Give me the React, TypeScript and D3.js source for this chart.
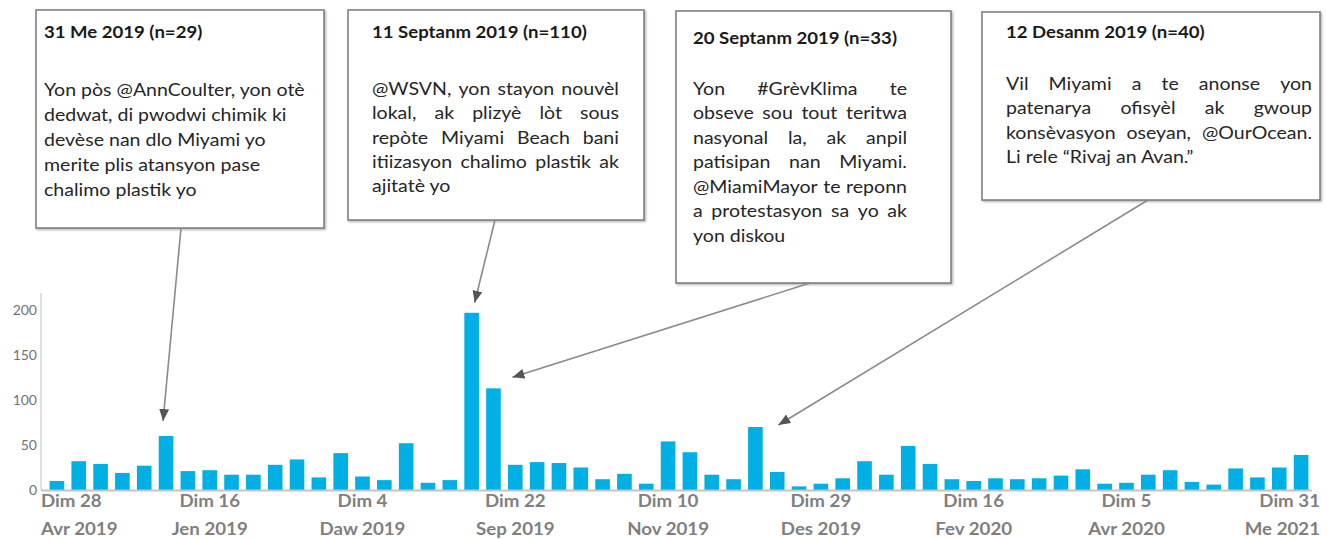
import React, { useEffect, useRef } from 'react'
import * as d3 from 'd3'

// weekly counts, one bar per week starting on this Sunday
const firstWeek = '2019-04-28'
const weeklyCounts = [
    10, 32, 29, 19, 27, 60, 21, 22, 17, 17, 28, 34, 14, 41, 15, 11, 52, 8, 11, 197,
    113, 28, 31, 30, 25, 12, 18, 7, 54, 42, 17, 12, 70, 20, 4, 7, 13, 32, 17, 49,
    29, 12, 10, 13, 12, 13, 16, 23, 7, 8, 17, 22, 9, 6, 24, 14, 25, 39
]

const tickWeeks = ['2019-04-28', '2019-06-16', '2019-08-04', '2019-09-22', '2019-11-10', '2019-12-29', '2020-02-16', '2020-04-05', '2020-05-31']
const tickDays = ['Dim 28', 'Dim 16', 'Dim 4', 'Dim 22', 'Dim 10', 'Dim 29', 'Dim 16', 'Dim 5', 'Dim 31']
const tickMonths = ['Avr 2019', 'Jen 2019', 'Daw 2019', 'Sep 2019', 'Nov 2019', 'Des 2019', 'Fev 2020', 'Avr 2020', 'Me 2021']
const yTicks = [0, 50, 100, 150, 200]

const noteTitles = ['31 Me 2019 (n=29)', '11 Septanm 2019 (n=110)', '20 Septanm 2019 (n=33)', '12 Desanm 2019 (n=40)']
const noteLines = [
    ['Yon pòs @AnnCoulter, yon otè', 'dedwat, di pwodwi chimik ki', 'devèse nan dlo Miyami yo', 'merite plis atansyon pase', 'chalimo plastik yo'],
    ['@WSVN, yon stayon nouvèl', 'lokal, ak plizyè lòt sous', 'repòte Miyami Beach bani', 'itiizasyon chalimo plastik ak', 'ajitatè yo'],
    ['Yon #GrèvKlima te', 'obseve sou tout teritwa', 'nasyonal la, ak anpil', 'patisipan nan Miyami.', '@MiamiMayor te reponn', 'a protestasyon sa yo ak', 'yon diskou'],
    ['Vil Miyami a te anonse yon', 'patenarya ofisyèl ak gwoup', 'konsèvasyon oseyan, @OurOcean.', 'Li rele “Rivaj an Avan.”']
]
// the week each arrow points at
const noteWeeks = ['2019-06-02', '2019-09-08', '2019-09-15', '2019-12-08']

// box layout (pixels), kept apart from the data
const boxes = [
    { x: 36, y: 10, w: 288, h: 218, tx: 44, tw: 261, titleY: 38, bodyY: 96, lh: 25.1, justify: false, fx: 181, tipDx: -3, tipDy: -15 },
    { x: 348, y: 10, w: 296, h: 210, tx: 372, tw: 247, titleY: 38, bodyY: 95, lh: 24.3, justify: true, fx: 495, tipDx: 3, tipDy: -10 },
    { x: 676, y: 11, w: 275, h: 272, tx: 693, tw: 214, titleY: 44, bodyY: 95, lh: 24.5, justify: true, fx: 810, tipDx: 19, tipDy: -11 },
    { x: 982, y: 12, w: 338, h: 188, tx: 1006, tw: 306, titleY: 38, bodyY: 90, lh: 24.3, justify: true, fx: 1148, tipDx: 23, tipDy: -2 }
]

const FONT = 'Lato, "Open Sans", sans-serif'
const BODY_SIZE = 16.5
// the source picture is a little wider than tall, so glyphs get stretched sideways
const TICK_SX = 1.1
const TITLE_SX = 0.95

function drawChart(node) {
    const svg = d3.select(node)
    svg.selectAll('*').remove()

    const parse = d3.utcParse('%Y-%m-%d')
    const fmt = d3.utcFormat('%Y-%m-%d')
    const start = parse(firstWeek)
    const weeks = d3.utcSunday.range(start, d3.utcSunday.offset(start, weeklyCounts.length)).map(fmt)

    const x = d3.scaleBand()
        .domain(weeks)
        .range([46, 1312])
        .paddingInner(0.33)
        .paddingOuter(0.165)
    const y = d3.scaleLinear().domain([0, 219]).range([490, 293])

    const defs = svg.append('defs')
    defs.append('marker')
        .attr('id', 'arrow')
        .attr('markerUnits', 'userSpaceOnUse')
        .attr('markerWidth', 12)
        .attr('markerHeight', 10)
        .attr('refX', 12)
        .attr('refY', 5)
        .attr('orient', 'auto')
        .append('path')
        .attr('d', 'M0,0 L12,5 L0,10 Z')
        .attr('fill', '#555')
    const shadow = defs.append('filter').attr('id', 'shadow').attr('x', '-5%').attr('y', '-5%').attr('width', '110%').attr('height', '110%')
    shadow.append('feDropShadow')
        .attr('dx', 1.2).attr('dy', 1.2).attr('stdDeviation', 0.8)
        .attr('flood-color', '#999').attr('flood-opacity', 0.8)

    // y axis
    svg.append('line')
        .attr('x1', 41).attr('x2', 41)
        .attr('y1', y(0)).attr('y2', y(219))
        .attr('stroke', '#d6d6d6').attr('stroke-width', 1.5)
    svg.append('g')
        .selectAll('text')
        .data(yTicks)
        .join('text')
        .attr('x', 37)
        .attr('y', d => y(d))
        .attr('dy', '0.36em')
        .attr('text-anchor', 'end')
        .attr('font-family', FONT)
        .attr('font-size', 14)
        .attr('fill', '#737373')
        .text(d => d)

    // bars
    svg.append('g')
        .selectAll('rect')
        .data(weeklyCounts)
        .join('rect')
        .attr('x', (d, i) => x(weeks[i]))
        .attr('y', d => y(d))
        .attr('width', x.bandwidth())
        .attr('height', d => y(0) - y(d))
        .attr('fill', '#00b0e4')

    // baseline
    svg.append('line')
        .attr('x1', 41).attr('x2', x.range()[1])
        .attr('y1', y(0) + 0.5).attr('y2', y(0) + 0.5)
        .attr('stroke', '#c4c4c4').attr('stroke-width', 2)

    // x tick labels, first and last pinned to the ends
    const last = tickWeeks.length - 1
    const tickX = i => i === 0 ? x.range()[0] - 5 : i === last ? x.range()[1] + 8 : x(tickWeeks[i]) + x.bandwidth() / 2
    const tickAnchor = i => i === 0 ? 'start' : i === last ? 'end' : 'middle'
    const ticks = svg.append('g')
        .attr('font-family', FONT)
        .attr('font-size', 17)
        .attr('font-weight', 'bold')
        .attr('fill', '#7f7f7f')
    ticks.selectAll('text.day')
        .data(tickDays)
        .join('text')
        .attr('class', 'day')
        .attr('transform', (d, i) => `translate(${tickX(i)},507) scale(${TICK_SX},1)`)
        .attr('text-anchor', (d, i) => tickAnchor(i))
        .text(d => d)
    ticks.selectAll('text.month')
        .data(tickMonths)
        .join('text')
        .attr('class', 'month')
        .attr('transform', (d, i) => `translate(${tickX(i)},535) scale(${TICK_SX},1)`)
        .attr('text-anchor', (d, i) => tickAnchor(i))
        .text(d => d)

    // horizontal stretch for the note text, fitted on the first left-aligned line
    const probe = svg.append('text')
        .attr('font-family', FONT)
        .attr('font-size', BODY_SIZE)
        .text(noteLines[0][0])
    const sx = boxes[0].tw / probe.node().getComputedTextLength()
    probe.remove()

    // annotation boxes and arrows
    boxes.forEach((b, k) => {
        const wk = noteWeeks[k]
        const tipX = x(wk) + x.bandwidth() / 2 + b.tipDx
        const tipY = y(weeklyCounts[weeks.indexOf(wk)]) + b.tipDy

        svg.append('line')
            .attr('x1', b.fx).attr('y1', b.y + b.h)
            .attr('x2', tipX).attr('y2', tipY)
            .attr('stroke', '#8a8a8a')
            .attr('stroke-width', 1.6)
            .attr('marker-end', 'url(#arrow)')

        svg.append('rect')
            .attr('x', b.x).attr('y', b.y)
            .attr('width', b.w).attr('height', b.h)
            .attr('fill', '#fff')
            .attr('stroke', '#7a7a7a')
            .attr('stroke-width', 1.5)
            .attr('filter', 'url(#shadow)')

        svg.append('text')
            .attr('transform', `translate(${b.tx},${b.titleY}) scale(${sx * TITLE_SX},1)`)
            .attr('font-family', FONT)
            .attr('font-size', BODY_SIZE)
            .attr('font-weight', 'bold')
            .attr('fill', '#1a1a1a')
            .text(noteTitles[k])

        const g = svg.append('g')
            .attr('transform', `translate(${b.tx},0) scale(${sx},1)`)
            .attr('font-family', FONT)

        const width = b.tw / sx
        const lines = noteLines[k]
        lines.forEach((line, li) => {
            const ly = b.bodyY + li * b.lh
            const words = line.split(' ')
            const justify = b.justify && li < lines.length - 1 && words.length > 1
            if (!justify) {
                g.append('text')
                    .attr('x', 0).attr('y', ly)
                    .attr('font-size', BODY_SIZE)
                    .attr('fill', '#262626')
                    .text(line)
                return
            }
            const nodes = words.map(w => g.append('text')
                .attr('y', ly)
                .attr('font-size', BODY_SIZE)
                .attr('fill', '#262626')
                .text(w))
            const widths = nodes.map(n => n.node().getComputedTextLength())
            const gap = Math.max(2, (width - d3.sum(widths)) / (words.length - 1))
            let cx = 0
            nodes.forEach((n, i) => {
                n.attr('x', cx)
                cx += widths[i] + gap
            })
        })
    })
}

export default function App() {
    const ref = useRef(null)

    useEffect(() => {
        drawChart(ref.current)
    }, [])

    return (
        <svg
            ref={ref}
            width={1327}
            height={539}
            style={{ position: 'absolute', left: 0, top: 0, background: '#fff' }}
        />
    )
}
